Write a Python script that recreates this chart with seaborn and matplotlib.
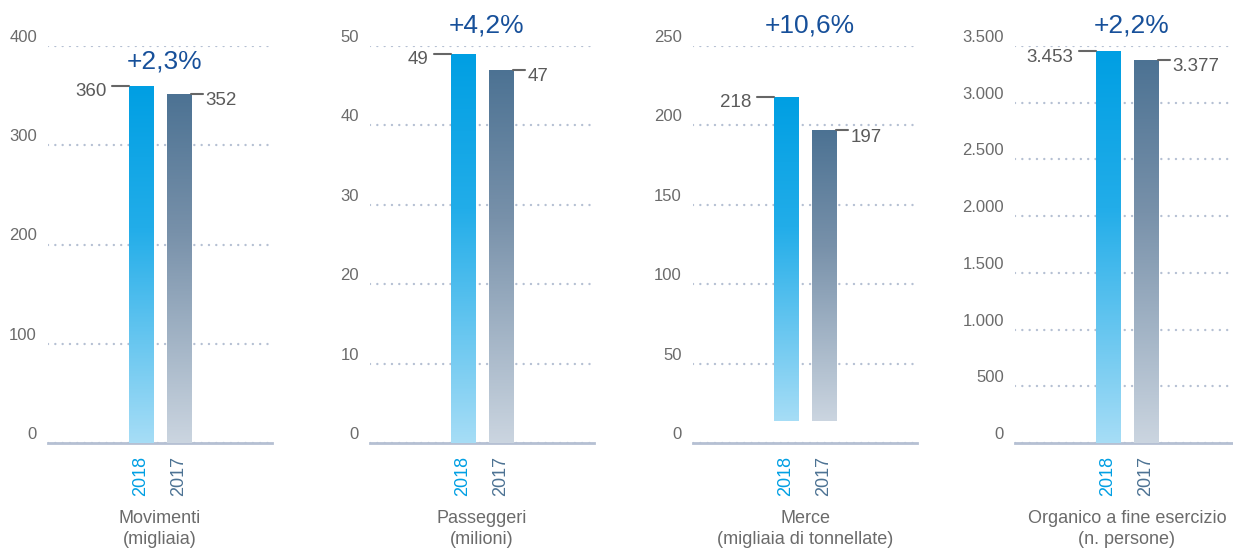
import numpy as np
import seaborn as sns
import matplotlib.pyplot as plt
from matplotlib.colors import LinearSegmentedColormap
from matplotlib.transforms import ScaledTranslation

# data
years = ["2018", "2017"]
movimenti = [360, 352]
passeggeri = [49, 47]
merce = [218, 197]
organico = [3453, 3377]
value_labels = [["360", "352"], ["49", "47"], ["218", "197"], ["3.453", "3.377"]]
variations = ["+2,3%", "+4,2%", "+10,6%", "+2,2%"]
titles = ["Movimenti\n(migliaia)", "Passeggeri\n(milioni)",
          "Merce\n(migliaia di tonnellate)", "Organico a fine esercizio\n(n. persone)"]
y_max = [400, 50, 250, 3500]
y_step = [100, 10, 50, 500]
bar_base = [0, 0, 14, 0]
var_y = [384, 52.6, 263, 3685]

panels = [movimenti, passeggeri, merce, organico]

sns.set_style("white")
plt.rcParams['font.family'] = ['Liberation Sans', 'DejaVu Sans']

GRID = "#B5C0D3"
TXT = "#6B6B6B"
VAL = "#5A5A5A"
PCT = "#17509A"
year_colors = ["#009FE3", "#4C7293"]
cmaps = [
    LinearSegmentedColormap.from_list("c18", [(0, "#A6DDF6"), (0.6, "#22ADE9"), (1, "#009FE3")]),
    LinearSegmentedColormap.from_list("c17", [(0, "#CBD5E0"), (0.6, "#7891AA"), (1, "#4C7293")]),
]

W, H = 1233, 552
fig = plt.figure(figsize=(W / 100, H / 100), dpi=100)
lefts = [48, 370, 693, 1015]
grad = np.linspace(0, 1, 256).reshape(-1, 1)


def fmt(v):
    return f"{v:,}".replace(",", ".")


for i, vals in enumerate(panels):
    ax = fig.add_axes([lefts[i] / W, 109 / H, 224 / W, 397 / H])
    sns.barplot(x=years, y=vals, order=years, ax=ax, width=0.64, color="white", zorder=3)

    for j, p in enumerate(ax.patches):
        p.set_y(bar_base[i])
        p.set_height(vals[j] - bar_base[i])
        p.set_facecolor("none")
        p.set_edgecolor("none")
        x0, x1 = p.get_x(), p.get_x() + p.get_width()
        im = ax.imshow(grad, extent=[x0, x1, bar_base[i], vals[j]], origin="lower",
                       aspect="auto", cmap=cmaps[j], zorder=3)
        im.set_clip_path(p)
        if j == 0:
            ax.plot([x0 - 0.45, x0], [vals[j], vals[j]], color="#666666", lw=1.5, zorder=4)
            ax.annotate(value_labels[i][j], xy=(x0 - 0.6, vals[j]), xytext=(0, -6),
                        textcoords="offset pixels", ha="right", va="center",
                        fontsize=13.5, color=VAL)
        else:
            ax.plot([x1, x1 + 0.34], [vals[j], vals[j]], color="#666666", lw=1.5, zorder=4)
            ax.annotate(value_labels[i][j], xy=(x1 + 0.4, vals[j]), xytext=(0, -7),
                        textcoords="offset pixels", ha="left", va="center",
                        fontsize=13.5, color=VAL)

    ax.text(0.62, var_y[i], variations[i], ha="center", va="center",
            fontsize=19, color=PCT)

    ax.set_xlim(-2.48, 3.49)
    ax.set_ylim(0, y_max[i])
    ticks = list(range(0, y_max[i] + 1, y_step[i]))
    ax.set_yticks(ticks, [fmt(t) for t in ticks])
    ax.yaxis.grid(True, linestyle=(0, (0.01, 3.0)), color=GRID, lw=1.75,
                  dash_capstyle="round")
    ax.xaxis.grid(False)
    ax.set_axisbelow(True)
    ax.tick_params(axis="y", length=0, pad=8, labelsize=12, labelcolor=TXT)
    shift = ScaledTranslation(0, 0.1, fig.dpi_scale_trans)
    for lbl in ax.get_yticklabels():
        lbl.set_transform(lbl.get_transform() + shift)

    ax.set_xticks([0, 1], years)
    ax.tick_params(axis="x", length=0, pad=9, labelsize=13)
    for lbl, c in zip(ax.get_xticklabels(), year_colors):
        lbl.set_rotation(90)
        lbl.set_color(c)
        lbl.set_va("top")

    for s in ["top", "right", "left"]:
        ax.spines[s].set_visible(False)
    ax.spines["bottom"].set_color(GRID)
    ax.spines["bottom"].set_linewidth(2)
    ax.spines["bottom"].set_zorder(2)

    ax.set_ylabel("")
    ax.set_xlabel(titles[i], fontsize=13, color=TXT, labelpad=10, linespacing=1.35)

fig.savefig("out.png", dpi=100)
